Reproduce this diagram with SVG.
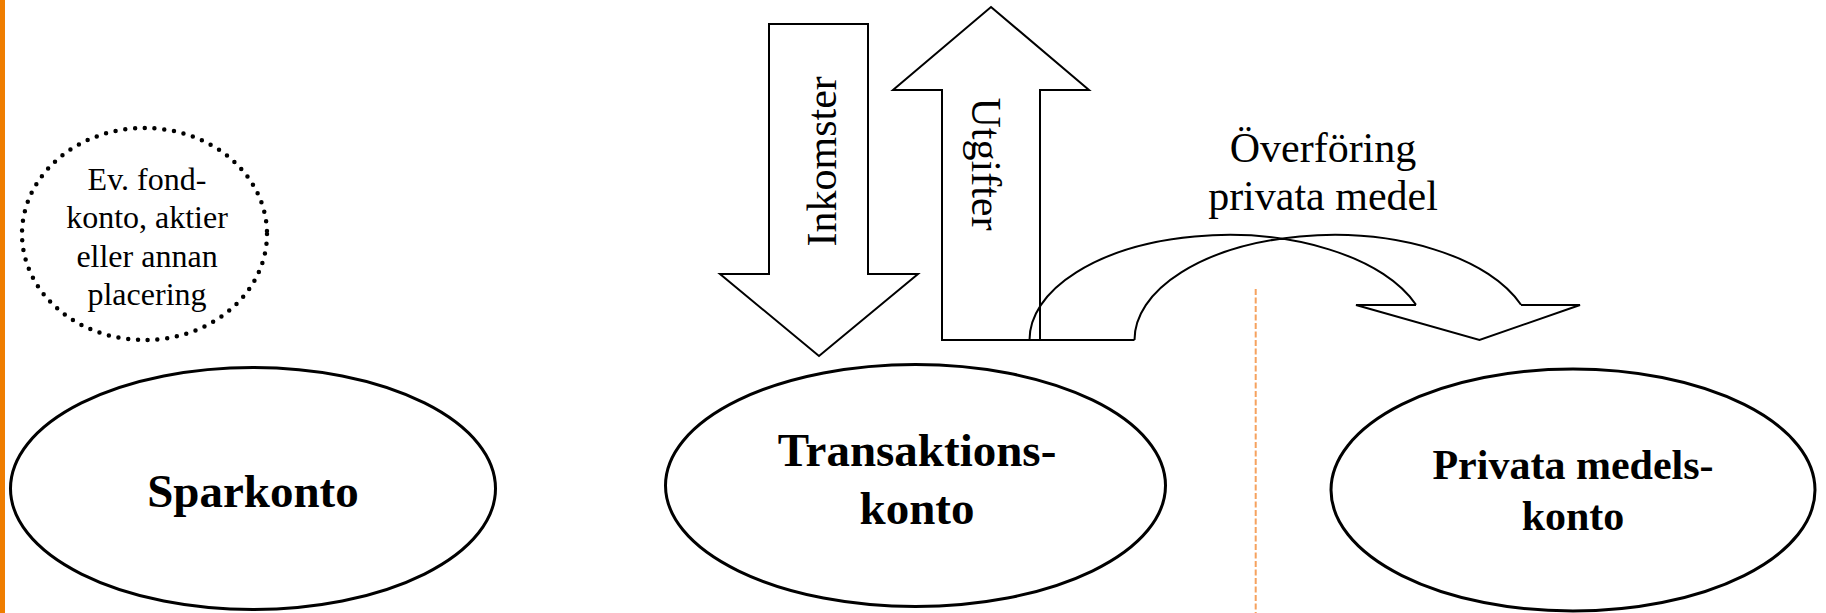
<svg xmlns="http://www.w3.org/2000/svg" width="1826" height="613" viewBox="0 0 1826 613">
<style>
.t{font-family:"Liberation Serif","Times New Roman",serif;fill:#000;text-anchor:middle}
.b{font-weight:bold}
.shape{fill:#fff;stroke:#000;stroke-width:2;stroke-linejoin:miter}
.ell{fill:#fff;stroke:#000;stroke-width:3}
</style>
<rect x="0" y="0" width="1826" height="613" fill="#fff"/>
<rect x="0" y="0" width="5" height="613" fill="#EF7D00"/>
<line x1="1255.7" y1="289" x2="1255.7" y2="613" stroke="#F6A25E" stroke-width="2" stroke-dasharray="6 2.5"/>

<g id="fond">
<ellipse cx="144.5" cy="234" rx="122.5" ry="106" fill="none" stroke="#000" stroke-width="4.5" stroke-dasharray="0 9.8" stroke-linecap="round"/>
<text class="t" font-size="32" x="147" y="189.5">Ev. fond-</text>
<text class="t" font-size="32" x="147" y="228">konto, aktier</text>
<text class="t" font-size="32" x="147" y="266.5">eller annan</text>
<text class="t" font-size="32" x="147" y="305">placering</text>
</g>

<g id="sparkonto">
<ellipse class="ell" cx="253" cy="488.5" rx="242.5" ry="121"/>
<text class="t b" font-size="47" x="253" y="507">Sparkonto</text>
</g>

<g id="transaktionskonto">
<ellipse class="ell" cx="915.5" cy="485.5" rx="250" ry="121"/>
<text class="t b" font-size="47" x="917" y="466">Transaktions-</text>
<text class="t b" font-size="47" x="917" y="524">konto</text>
</g>

<g id="privatamedelskonto">
<ellipse class="ell" cx="1573" cy="490" rx="242" ry="121"/>
<text class="t b" font-size="42" x="1573" y="479">Privata medels-</text>
<text class="t b" font-size="42" x="1573" y="530">konto</text>
</g>

<g id="connectors">
<g id="inkomster">
<polygon class="shape" points="769,24 868,24 868,274 918,274 819,356 720,274 769,274"/>
<text class="t" font-size="42" transform="translate(836,161.3) rotate(-90)">Inkomster</text>
</g>
<g id="utgifter">
<polygon class="shape" points="991,7 1089,90 1040,90 1040,340 942,340 942,90 893,90"/>
<text class="t" font-size="42" transform="translate(972,164) rotate(90)">Utgifter</text>
</g>
<g id="overforing">
<path d="M 1029.5 340 A 199 105 0 0 1 1416 304.8 M 1134.5 340 A 199 105 0 0 1 1521 304.8 M 1029.5 340 L 1134.5 340 M 1416 305 L 1356 305 L 1479.5 340 L 1580 305 L 1521 305" fill="none" stroke="#000" stroke-width="2" stroke-linejoin="miter"/>
<text class="t" font-size="42" x="1323" y="162">Överföring</text>
<text class="t" font-size="42" x="1323" y="210">privata medel</text>
</g>
</g>
</svg>
